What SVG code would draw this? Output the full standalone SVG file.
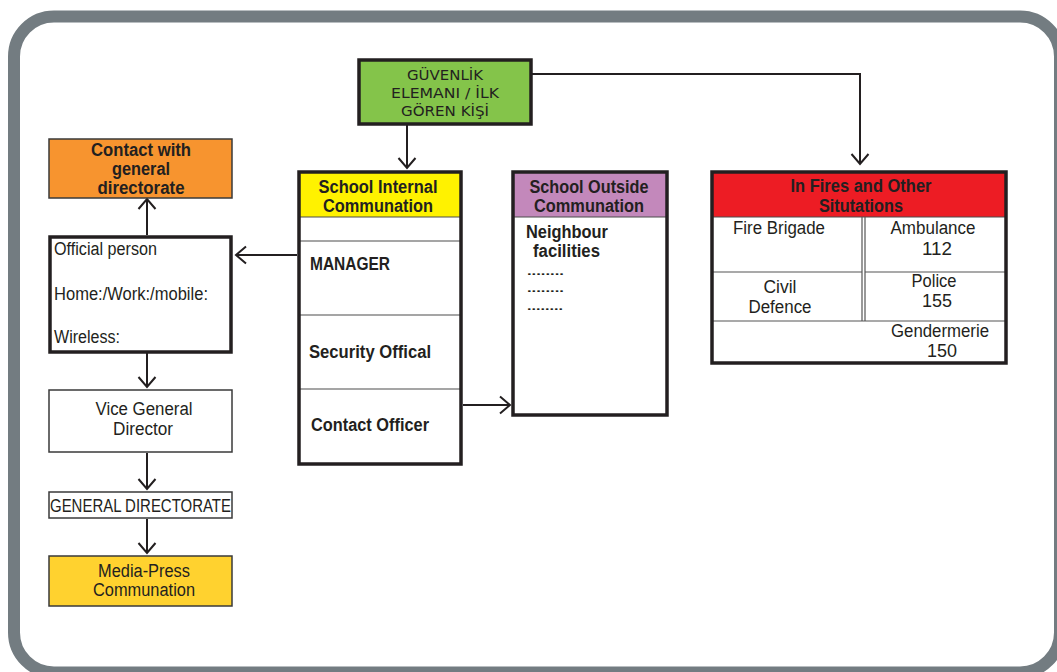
<svg xmlns="http://www.w3.org/2000/svg" width="1057" height="672" viewBox="0 0 1057 672">
  <defs>
    <marker id="vhead" markerUnits="userSpaceOnUse" markerWidth="24" markerHeight="24" viewBox="-12 -12 24 24" refX="0" refY="0" orient="auto">
      <path d="M-10,-8.5 L0,0 L-10,8.5" fill="none" stroke="#231f20" stroke-width="2"/>
    </marker>
    <style>
      .frame { fill: #ffffff; stroke: #737c81; stroke-width: 12; }
      .thick { stroke: #231f20; stroke-width: 3.5; }
      .thin { stroke: #3a3a3a; stroke-width: 1.5; }
      .row { stroke: #4d4d4d; stroke-width: 1.2; fill: none; }
      .cell { stroke: #555555; stroke-width: 1.2; fill: none; }
      .wire { fill: none; stroke: #231f20; stroke-width: 2; marker-end: url(#vhead); }
      text { fill: #231f20; font-family: "Liberation Sans Narrow", "Liberation Sans", Arial, sans-serif; }
      .b { font-weight: bold; font-size: 18px; }
      .r { font-size: 18px; }
      .dots { font-size: 10px; font-weight: bold; }
      .din { font-family: "DejaVu Sans", "Liberation Sans", sans-serif; font-size: 14px; }
      .c { text-anchor: middle; }
    </style>
  </defs>

  <!-- outer rounded frame -->
  <rect class="frame" x="14" y="16.5" width="1046" height="656" rx="40" ry="40"/>

  <!-- connectors -->
  <g id="connectors">
    <path class="wire" d="M407,125 V168"/>
    <path class="wire" d="M532,74 H860 V164"/>
    <path class="wire" d="M297,255 H236"/>
    <path class="wire" d="M463,405 H510"/>
    <path class="wire" d="M147,235 V199"/>
    <path class="wire" d="M147,353 V387"/>
    <path class="wire" d="M147,453 V489"/>
    <path class="wire" d="M147,519 V553"/>
  </g>

  <!-- first responder -->
  <g id="security-person">
    <rect class="thick" x="359" y="60" width="172" height="64" fill="#84c44a"/>
    <text class="din c" x="445" y="80" textLength="76" lengthAdjust="spacingAndGlyphs">GÜVENLİK</text>
    <text class="din c" x="445" y="98" textLength="108" lengthAdjust="spacingAndGlyphs">ELEMANI / İLK</text>
    <text class="din c" x="445" y="116" textLength="88" lengthAdjust="spacingAndGlyphs">GÖREN KİŞİ</text>
  </g>

  <!-- internal communication -->
  <g id="internal">
    <rect x="299" y="172" width="162" height="45" fill="#fff200"/>
    <line class="row" x1="299" y1="217" x2="461" y2="217"/>
    <line class="row" x1="299" y1="241" x2="461" y2="241"/>
    <line class="row" x1="299" y1="315" x2="461" y2="315"/>
    <line class="row" x1="299" y1="389" x2="461" y2="389"/>
    <rect class="thick" x="299" y="172" width="162" height="292" fill="none"/>
    <text class="b c" x="378" y="193" textLength="119" lengthAdjust="spacingAndGlyphs">School Internal</text>
    <text class="b c" x="378" y="212" textLength="110" lengthAdjust="spacingAndGlyphs">Communation</text>
    <text class="b" x="310" y="270" textLength="80" lengthAdjust="spacingAndGlyphs">MANAGER</text>
    <text class="b" x="309" y="358" textLength="122" lengthAdjust="spacingAndGlyphs">Security Offical</text>
    <text class="b" x="311" y="431" textLength="118" lengthAdjust="spacingAndGlyphs">Contact Officer</text>
  </g>

  <!-- outside communication -->
  <g id="outside">
    <rect x="513" y="172" width="154" height="45" fill="#c388bb"/>
    <line class="row" x1="513" y1="217" x2="667" y2="217"/>
    <rect class="thick" x="513" y="172" width="154" height="243" fill="none"/>
    <text class="b c" x="589" y="193" textLength="119" lengthAdjust="spacingAndGlyphs">School Outside</text>
    <text class="b c" x="589" y="212" textLength="110" lengthAdjust="spacingAndGlyphs">Communation</text>
    <text class="b" x="526" y="238" textLength="82" lengthAdjust="spacingAndGlyphs">Neighbour</text>
    <text class="b" x="533" y="257" textLength="67" lengthAdjust="spacingAndGlyphs">facilities</text>
    <text class="dots" x="527" y="275" textLength="37" lengthAdjust="spacingAndGlyphs">........</text>
    <text class="dots" x="527" y="292" textLength="37" lengthAdjust="spacingAndGlyphs">........</text>
    <text class="dots" x="527" y="310" textLength="36" lengthAdjust="spacingAndGlyphs">........</text>
  </g>

  <!-- emergency numbers -->
  <g id="emergency">
    <rect x="712" y="172" width="294" height="45" fill="#ed1c24"/>
    <line class="row" x1="712" y1="217" x2="1006" y2="217"/>
    <line class="cell" x1="862" y1="217" x2="862" y2="321"/>
    <line class="cell" x1="865" y1="217" x2="865" y2="321"/>
    <line class="cell" x1="712" y1="272" x2="862" y2="272"/>
    <line class="cell" x1="865" y1="272" x2="1006" y2="272"/>
    <line class="cell" x1="712" y1="321" x2="1006" y2="321"/>
    <rect class="thick" x="712" y="172" width="294" height="191" fill="none"/>
    <text class="b c" x="861" y="192" textLength="141" lengthAdjust="spacingAndGlyphs">In Fires and Other</text>
    <text class="b c" x="861" y="212" textLength="84" lengthAdjust="spacingAndGlyphs">Situtations</text>
    <text class="r c" x="779" y="234" textLength="92" lengthAdjust="spacingAndGlyphs">Fire Brigade</text>
    <text class="r c" x="933" y="234" textLength="85" lengthAdjust="spacingAndGlyphs">Ambulance</text>
    <text class="r c" x="937" y="255" textLength="30" lengthAdjust="spacingAndGlyphs">112</text>
    <text class="r c" x="780" y="293" textLength="33" lengthAdjust="spacingAndGlyphs">Civil</text>
    <text class="r c" x="780" y="313" textLength="63" lengthAdjust="spacingAndGlyphs">Defence</text>
    <text class="r c" x="934" y="287" textLength="45" lengthAdjust="spacingAndGlyphs">Police</text>
    <text class="r c" x="937" y="307" textLength="30" lengthAdjust="spacingAndGlyphs">155</text>
    <text class="r c" x="940" y="337" textLength="98" lengthAdjust="spacingAndGlyphs">Gendermerie</text>
    <text class="r c" x="942" y="357" textLength="30" lengthAdjust="spacingAndGlyphs">150</text>
  </g>

  <!-- general directorate contact -->
  <g id="contact-directorate">
    <rect class="thin" x="49" y="139" width="183" height="59" fill="#f7942f"/>
    <text class="b c" x="141" y="156" textLength="100" lengthAdjust="spacingAndGlyphs">Contact with</text>
    <text class="b c" x="141" y="175" textLength="58" lengthAdjust="spacingAndGlyphs">general</text>
    <text class="b c" x="141" y="194" textLength="87" lengthAdjust="spacingAndGlyphs">directorate</text>
  </g>

  <!-- official person -->
  <g id="official-person">
    <rect class="thick" x="50" y="237" width="181" height="115" fill="#ffffff"/>
    <text class="r" x="54" y="255" textLength="103" lengthAdjust="spacingAndGlyphs">Official person</text>
    <text class="r" x="54" y="300" textLength="154" lengthAdjust="spacingAndGlyphs">Home:/Work:/mobile:</text>
    <text class="r" x="54" y="343" textLength="66" lengthAdjust="spacingAndGlyphs">Wireless:</text>
  </g>

  <!-- vice general director -->
  <g id="vice-director">
    <rect class="thin" x="49" y="390" width="183" height="62" fill="#ffffff" stroke-width="2"/>
    <text class="r c" x="144" y="415" textLength="97" lengthAdjust="spacingAndGlyphs">Vice General</text>
    <text class="r c" x="143" y="435" textLength="60" lengthAdjust="spacingAndGlyphs">Director</text>
  </g>

  <!-- general directorate -->
  <g id="general-directorate">
    <rect class="thin" x="49" y="492" width="183" height="26" fill="#ffffff" stroke-width="2"/>
    <text class="r c" x="140.5" y="512" textLength="181" lengthAdjust="spacingAndGlyphs">GENERAL DIRECTORATE</text>
  </g>

  <!-- media and press -->
  <g id="media-press">
    <rect class="thin" x="49" y="556" width="183" height="50" fill="#ffd22f"/>
    <text class="r c" x="144" y="577" textLength="92" lengthAdjust="spacingAndGlyphs">Media-Press</text>
    <text class="r c" x="144" y="596" textLength="102" lengthAdjust="spacingAndGlyphs">Communation</text>
  </g>
</svg>
